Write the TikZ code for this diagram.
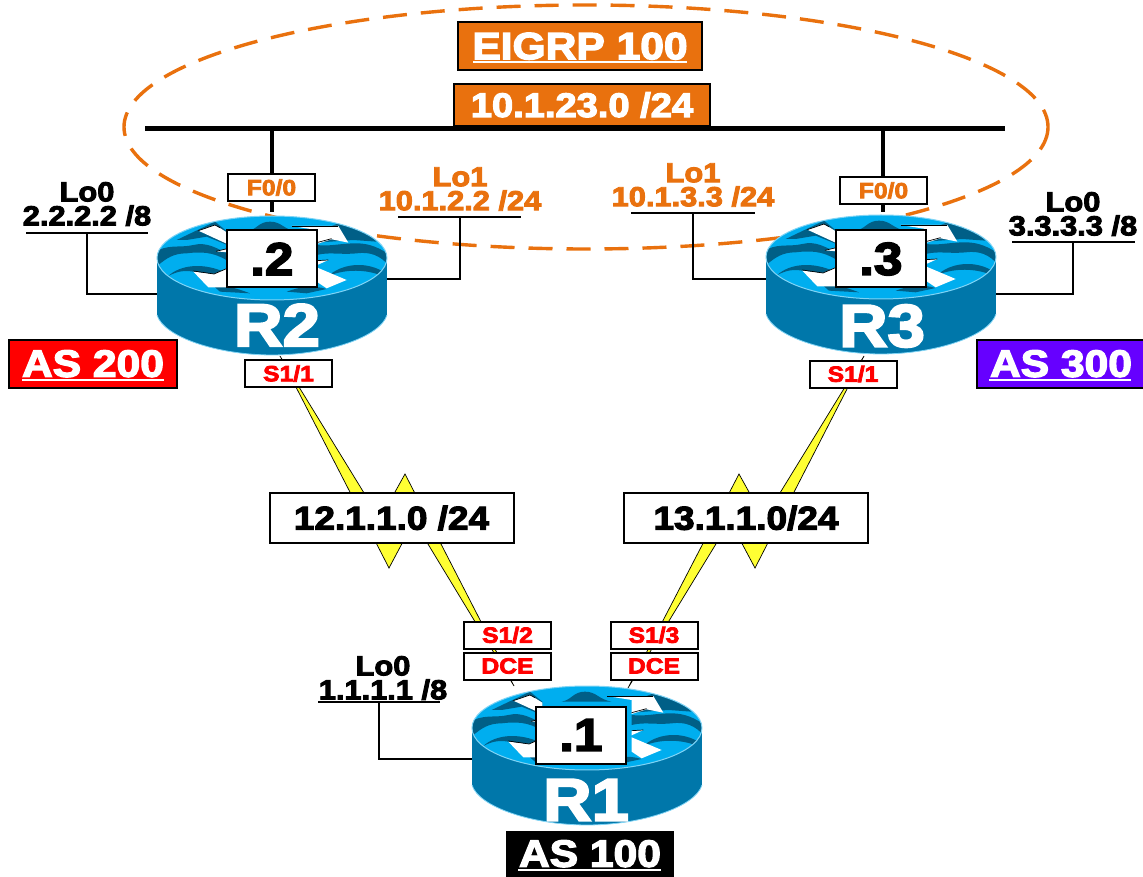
\documentclass[tikz,border=0pt]{standalone}
\usepackage{fontspec}
\setmainfont{Liberation Sans}[BoldFeatures={FakeBold=3.5,FakeStretch=1.12}]
\definecolor{org}{HTML}{E9710E}
\definecolor{rbody}{HTML}{0077AA}
\definecolor{rlight}{HTML}{00AEEF}
\definecolor{rdark}{HTML}{005F87}
\definecolor{rrim}{HTML}{80D4F5}
\definecolor{asp}{HTML}{6600FF}
\definecolor{bolt}{HTML}{FFFF33}
\newcommand{\fs}[1]{\fontsize{#1}{#1}\selectfont\bfseries}
\tikzset{
  x=1pt,y=-1pt,
  box/.style={draw=black,line width=2pt,fill=white,inner sep=0pt,minimum width=#1},
  box/.default=87pt,
  small/.style={box,minimum height=27pt,font=\fs{22}},
  ip/.style={inner sep=0pt,align=center,font=\fontsize{27.5}{24}\selectfont\bfseries},
  link/.style={line width=2.4pt,black,line join=miter},
  serial/.style={draw=black,line width=.7pt,fill=bolt,line join=miter},
}
\newcommand{\rtr}[2]{%
\begin{scope}[shift={(#1-132,#2-68)},x=.3333pt,y=-.3333pt]
  \path[fill=rbody] (51,204) -- (51,375) .. controls (70,440) and (230,495) .. (396,495)
     .. controls (562,495) and (722,440) .. (741,375) -- (741,204) -- cycle;
  \draw[rrim,line width=.8pt] (51,375) .. controls (70,440) and (230,495) .. (396,495)
     .. controls (562,495) and (722,440) .. (741,375);
  \begin{scope}
    \clip (396,204) ellipse [x radius=345,y radius=126];
    \fill[rlight] (396,204) ellipse [x radius=345,y radius=126];
    \fill[rdark] (110,150) -- (225,95) -- (262,125) -- (262,165) -- (200,140) -- (140,150) -- cycle;
    \fill[rdark] (320,125) .. controls (350,120) and (355,95) .. (390,95) .. controls (425,95) and (430,118) .. (470,125) -- cycle;
    \fill[rdark] (530,158) -- (570,110) -- (600,98) -- (690,135) -- (710,155) -- (640,150) -- cycle;
    \fill[rdark] (40,190) .. controls (80,160) and (120,175) .. (160,165) .. controls (200,155) and (230,175) .. (262,190)
       -- (262,212) .. controls (220,185) and (180,185) .. (140,190) .. controls (100,190) and (80,205) .. (55,225) -- cycle;
    \fill[rdark] (530,165) .. controls (570,170) and (600,160) .. (650,160) .. controls (690,160) and (720,175) .. (750,195)
       -- (750,230) .. controls (720,195) and (690,185) .. (650,190) .. controls (600,195) and (570,185) .. (530,195) -- cycle;
    \fill[rdark] (85,258) .. controls (120,225) and (190,215) .. (262,250) -- (262,262) -- (160,245) .. controls (130,240) and (110,245) .. (85,258) -- cycle;
    \fill[rdark] (565,258) .. controls (600,225) and (670,210) .. (730,245) -- (720,255) .. controls (680,240) and (620,235) .. (565,258) -- cycle;
    \fill[rdark] (225,292) .. controls (260,285) and (290,295) .. (330,310) -- (240,305) -- cycle;
    \fill[rdark] (440,305) .. controls (480,290) and (520,285) .. (560,297) -- (500,310) -- cycle;
    \fill[white] (175,122) -- (225,105) -- (262,128) -- (262,162) -- cycle;
    \draw[black,line width=.7pt] (175,122) -- (225,105) -- (240,113);
    \fill[white] (455,108) -- (595,108) -- (625,158) -- (575,148) -- (530,162) -- (530,120) -- cycle;
    \draw[black,line width=.7pt] (455,108) -- (595,108);
    \draw[black,line width=.7pt] (530,158) -- (575,146);
    \fill[white] (160,245) -- (222,252) -- (262,235) -- (262,292) -- (205,292) -- cycle;
    \draw[black,line width=.7pt] (160,243) -- (222,252) -- (262,235);
    \fill[white] (530,232) -- (620,270) -- (560,295) -- (530,275) -- cycle;
    \fill[white] (530,212) -- (565,210) -- (530,226) -- cycle;
    \draw[black,line width=.7pt] (530,212) -- (565,210);
    \fill[white] (228,184) -- (262,176) -- (262,187) -- cycle;
    \draw[black,line width=.7pt] (228,184) -- (262,176);
  \end{scope}
  \draw[rrim,line width=1pt] (396,204) ellipse [x radius=345,y radius=126];
\end{scope}}
\begin{document}
\begin{tikzpicture}
\useasboundingbox (0,0) rectangle (1143,877);
% named anchors for connectors
\coordinate (r2n) at (272,212); \coordinate (r3n) at (883,212);
\coordinate (r2w) at (158,294); \coordinate (r2e) at (386,279);
\coordinate (r3w) at (766,279); \coordinate (r3e) at (995,294);
\coordinate (r1w) at (472,759);
\coordinate (t2) at (280,356); \coordinate (t3) at (864,356);
\coordinate (b2) at (514,686); \coordinate (b3) at (628,688);
\coordinate (barL) at (145,129); \coordinate (barR) at (1005,129);
\coordinate (barA) at (272,129); \coordinate (barB) at (883,129);

\draw[org,line width=3.4pt,dash pattern=on 24pt off 14pt] (586,127) ellipse [x radius=462,y radius=122];

\draw[black,line width=5pt] (barL) -- (barR);
\draw[black,line width=4pt] (barA) -- (r2n);
\draw[black,line width=4pt] (barB) -- (r3n);

% loopback stubs
\coordinate (u2a) at (26,233); \coordinate (u2b) at (148,233); \coordinate (u2c) at (87,233);
\coordinate (v2a) at (398,217); \coordinate (v2b) at (521,217); \coordinate (v2c) at (460,217);
\coordinate (v3a) at (631,213); \coordinate (v3b) at (755,213); \coordinate (v3c) at (693,213);
\coordinate (u3a) at (1012,242); \coordinate (u3b) at (1135,242); \coordinate (u3c) at (1073,242);
\coordinate (u1a) at (318,702); \coordinate (u1b) at (440,702); \coordinate (u1c) at (379,702);
\draw[link] (u2a) -- (u2b); \draw[link] (u2c) |- (r2w);
\draw[link] (v2a) -- (v2b); \draw[link] (v2c) |- (r2e);
\draw[link] (v3a) -- (v3b); \draw[link] (v3c) |- (r3w);
\draw[link] (u3a) -- (u3b); \draw[link] (u3c) |- (r3e);
\draw[link] (u1a) -- (u1b); \draw[link] (u1c) |- (r1w);

% serial links
\draw[serial] (t2) -- (389,568) -- (414,521) -- (b2) -- (405,474) -- (380,519) -- cycle;
\draw[serial] (t3) -- (755,568) -- (730,521) -- (b3) -- (739,474) -- (764,519) -- cycle;

% routers
\rtr{272}{258}
\rtr{881}{257}
\rtr{587}{728}

\node[font=\fs{60},text=white,inner sep=0pt] (R2) at (277,325) {R2};
\node[font=\fs{60},text=white,inner sep=0pt] (R3) at (882,326) {R3};
\node[font=\fs{60},text=white,inner sep=0pt] (R1) at (586,800) {R1};
\node[box=90pt,minimum height=57pt,font=\fs{46}] (a2) at (272,259) {.2};
\node[box=90pt,minimum height=57pt,font=\fs{46}] (a3) at (881,259) {.3};
\node[box=90pt,minimum height=57pt,font=\fs{46}] (a1) at (581,735) {.1};

% top labels
\node[draw=black,line width=2pt,fill=org,text=white,minimum width=244pt,minimum height=48pt,inner sep=0pt,font=\fs{38}] (eig) at (580,46.5) {\raisebox{1pt}{EIGRP 100}};
\draw[white,line width=2pt] (473,62) -- (687,62);
\node[draw=black,line width=2pt,fill=org,text=white,minimum width=256pt,minimum height=42pt,inner sep=0pt,font=\fs{34}] (net) at (582,105) {10.1.23.0 /24};

\node[small,text=org] (f2) at (271.5,187.5) {F0/0};
\node[small,text=org] (f3) at (883.5,190.5) {F0/0};
\node[small,text=red] (s2) at (288.5,373.5) {S1/1};
\node[small,text=red] (s3) at (853,374) {S1/1};
\node[small,text=red] (s12) at (507.5,635) {S1/2};
\node[small,text=red] (s13) at (654,635) {S1/3};
\node[small,text=red] (d12) at (507.5,666) {DCE};
\node[small,text=red] (d13) at (654,666) {DCE};

\node[ip] (l2) at (87,204) {Lo0\\2.2.2.2 /8};
\node[ip,text=org] (k2) at (460,189) {Lo1\\10.1.2.2 /24};
\node[ip,text=org] (k3) at (693,185) {Lo1\\10.1.3.3 /24};
\node[ip] (l3) at (1073,214) {Lo0\\3.3.3.3 /8};
\node[ip] (l1) at (383,678) {Lo0\\1.1.1.1 /8};

\node[box=244pt,minimum height=50pt,font=\fs{33}] (n12) at (391.5,518) {12.1.1.0 /24};
\node[box=244pt,minimum height=50pt,font=\fs{33}] (n13) at (746,518) {13.1.1.0/24};

\node[draw=black,line width=2pt,fill=red,text=white,minimum width=168pt,minimum height=48pt,inner sep=0pt,font=\fs{38}] (as2) at (93,364) {\raisebox{1pt}{AS 200}};
\draw[white,line width=2pt] (22,380) -- (164,380);
\node[draw=black,line width=2pt,fill=asp,text=white,minimum width=168pt,minimum height=48pt,inner sep=0pt,font=\fs{38}] (as3) at (1061,364) {\raisebox{1pt}{AS 300}};
\draw[white,line width=2pt] (989,380) -- (1131,380);
\node[fill=black,text=white,minimum width=168pt,minimum height=46pt,inner sep=0pt,font=\fs{38}] (as1) at (590,854) {\raisebox{1pt}{AS 100}};
\draw[white,line width=2pt] (518,870) -- (661,870);
\end{tikzpicture}
\end{document}
